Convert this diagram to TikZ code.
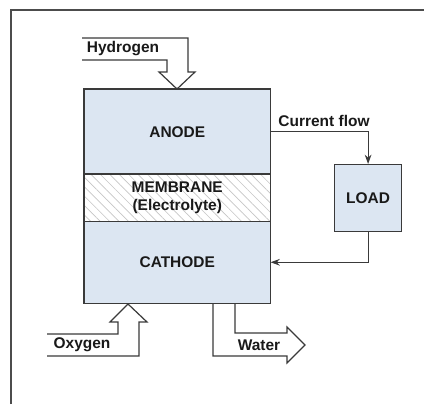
\documentclass[tikz,border=0pt]{standalone}
\usepackage{fontspec}
\setmainfont{Liberation Sans}
\usetikzlibrary{arrows.meta,patterns.meta}
\definecolor{boxfill}{HTML}{DCE6F2}
\definecolor{linecol}{HTML}{3A3A3A}
\begin{document}
\begin{tikzpicture}[x=0.75pt,y=-0.75pt,
  every node/.style={font=\fontsize{11.6}{13.5}\selectfont\bfseries, text=black!90},
  part/.style={fill=boxfill, inner sep=0pt},
  flow/.style={draw=linecol, line width=0.9pt, fill=white, line join=miter},
  wire/.style={draw=linecol, line width=0.9pt, -{Stealth[length=7pt,width=5pt]}},
  lbl/.style={inner sep=0pt}]
\useasboundingbox (0,0) rectangle (424,404);
% frame
\draw[gray!60!black, line width=1.1pt] (11,404) -- (11,10) -- (424,10);
% flows (drawn first, box outlines on top)
\draw[flow] (82,38) -- (188,38) -- (188,72) -- (195,72) -- (177,89) -- (159,72) -- (167,72) -- (167,60) -- (82,60);
\draw[flow] (47,334) -- (118,334) -- (118,322) -- (110,322) -- (128,304) -- (147,322) -- (139,322) -- (139,356) -- (47,356);
\draw[flow] (213,303) -- (213,356) -- (287,356) -- (287,363) -- (305,345) -- (287,327) -- (287,333) -- (235,333) -- (235,303);
% main box parts
\node[part, minimum width=186*0.75pt, minimum height=85*0.75pt, anchor=north west] (anode) at (84,89) {ANODE};
\node[part, fill=white, minimum width=186*0.75pt, minimum height=47*0.75pt, anchor=north west,
  postaction={pattern={Lines[angle=-45,distance=5pt,line width=0.5pt]}, pattern color=gray!45}] (membrane) at (84,174) {};
\node[lbl, align=center] (memtext) at (membrane.center) {MEMBRANE\\(Electrolyte)};
\node[part, minimum width=186*0.75pt, minimum height=82*0.75pt, anchor=north west] (cathode) at (84,221) {CATHODE};
\draw[linecol, line width=0.9pt] (anode.north west) rectangle (cathode.south east);
\draw[linecol, line width=0.9pt] (membrane.north west) -- (membrane.north east)
  (membrane.south west) -- (membrane.south east);
% load
\node[part, draw=linecol, line width=0.9pt, minimum width=67*0.75pt, minimum height=67*0.75pt, anchor=north west] (load) at (334,164) {LOAD};
% current wires
\draw[wire] (anode.east) -| (load.north);
\draw[wire] (load.south) |- (cathode.east);
% labels
\node[lbl] (current) at (324,121) {Current flow};
\node[lbl] (hydrogen) at (123,49) {Hydrogen};
\node[lbl] (oxygen) at (82,345) {Oxygen};
\node[lbl] (water) at (259,345) {Water};
\end{tikzpicture}
\end{document}
